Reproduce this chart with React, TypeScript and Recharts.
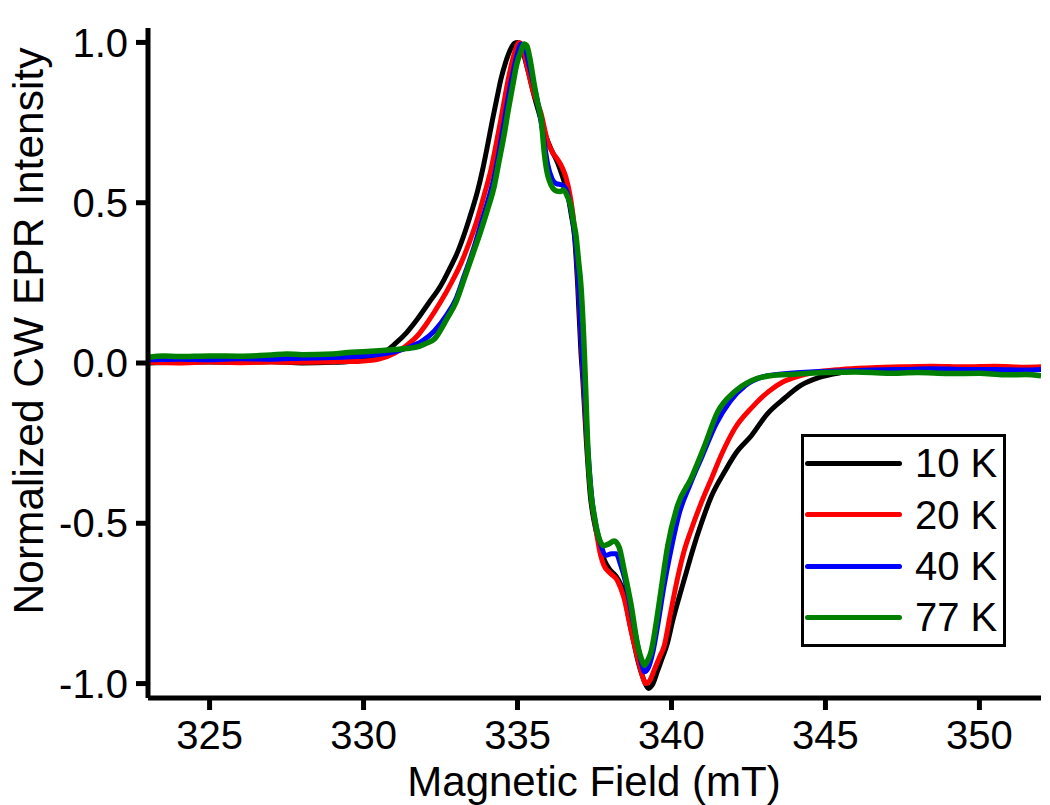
import React from 'react';
import { LineChart, Line, XAxis, YAxis, Legend, Label } from 'recharts';

// ---- Data ----
const fieldK10 = [323.0, 324.0, 325.0, 326.0, 327.0, 328.0, 329.0, 329.8, 330.3, 330.7, 331.0, 331.4, 331.75, 332.1, 332.5, 332.8, 333.05, 333.3, 333.5, 333.7, 333.86, 334.05, 334.19, 334.35, 334.46, 334.62, 334.78, 334.9, 335.0, 335.12, 335.33, 335.55, 335.76, 335.95, 336.09, 336.3, 336.45, 336.62, 336.75, 336.85, 336.95, 337.06, 337.12, 337.24, 337.36, 337.5, 337.65, 337.8, 338.0, 338.2, 338.35, 338.47, 338.6, 338.75, 338.9, 339.05, 339.15, 339.25, 339.4, 339.55, 339.7, 339.85, 340.05, 340.25, 340.43, 340.7, 340.97, 341.3, 341.72, 342.1, 342.6, 343.1, 343.67, 344.2, 344.8, 345.5, 346.5, 347.5, 348.5, 349.5, 350.5, 351.5, 352.0];
const intK10 = [0.000, 0.002, 0.003, 0.002, 0.004, 0.000, 0.002, 0.006, 0.018, 0.035, 0.058, 0.095, 0.137, 0.185, 0.24, 0.295, 0.345, 0.41, 0.47, 0.535, 0.60, 0.69, 0.76, 0.835, 0.885, 0.94, 0.98, 0.997, 1.0, 0.985, 0.916, 0.83, 0.76, 0.70, 0.667, 0.625, 0.585, 0.53, 0.46, 0.397, 0.25, 0.033, -0.05, -0.25, -0.41, -0.5, -0.56, -0.61, -0.645, -0.665, -0.69, -0.72, -0.79, -0.86, -0.925, -0.975, -1.0, -1.015, -1.0, -0.96, -0.92, -0.88, -0.8, -0.73, -0.67, -0.58, -0.50, -0.415, -0.34, -0.28, -0.226, -0.16, -0.11, -0.07, -0.045, -0.03, -0.02, -0.018, -0.015, -0.018, -0.015, -0.02, -0.018];

const fieldK20 = [323.0, 324.0, 325.0, 326.0, 327.0, 328.0, 329.0, 329.8, 330.5, 331.0, 331.4, 331.75, 332.1, 332.5, 332.85, 333.16, 333.45, 333.7, 333.92, 334.13, 334.3, 334.46, 334.6, 334.72, 334.88, 335.05, 335.15, 335.3, 335.5, 335.76, 335.98, 336.15, 336.3, 336.45, 336.57, 336.73, 336.85, 336.97, 337.08, 337.18, 337.28, 337.4, 337.55, 337.7, 337.8, 338.0, 338.25, 338.45, 338.7, 338.9, 339.05, 339.17, 339.3, 339.45, 339.6, 339.77, 339.95, 340.2, 340.4, 340.64, 340.95, 341.3, 341.65, 342.05, 342.6, 343.14, 343.6, 344.0, 344.6, 345.5, 346.5, 347.5, 348.5, 349.5, 350.5, 351.5, 352.0];
const intK20 = [0.002, 0.0, 0.003, 0.001, 0.003, 0.002, 0.004, 0.005, 0.012, 0.03, 0.055, 0.085, 0.13, 0.19, 0.25, 0.31, 0.38, 0.45, 0.525, 0.60, 0.68, 0.76, 0.835, 0.895, 0.96, 1.0, 0.99, 0.93, 0.85, 0.78, 0.69, 0.655, 0.635, 0.61, 0.58, 0.51, 0.42, 0.26, 0.05, -0.12, -0.28, -0.42, -0.52, -0.6, -0.63, -0.655, -0.68, -0.73, -0.84, -0.92, -0.975, -1.0, -0.99, -0.955, -0.92, -0.88, -0.79, -0.67, -0.59, -0.52, -0.44, -0.36, -0.28, -0.205, -0.14, -0.09, -0.06, -0.045, -0.03, -0.02, -0.015, -0.012, -0.01, -0.012, -0.01, -0.013, -0.012];

const fieldK40 = [323.0, 324.0, 325.0, 326.0, 327.0, 328.0, 329.0, 330.0, 330.6, 331.0, 331.5, 331.9, 332.3, 332.7, 333.0, 333.26, 333.55, 333.8, 334.05, 334.24, 334.42, 334.56, 334.7, 334.84, 334.98, 335.12, 335.22, 335.35, 335.5, 335.7, 335.85, 335.98, 336.12, 336.25, 336.45, 336.6, 336.75, 336.88, 336.98, 337.08, 337.18, 337.28, 337.4, 337.55, 337.7, 337.88, 338.05, 338.2, 338.35, 338.5, 338.7, 338.9, 339.05, 339.12, 339.25, 339.4, 339.55, 339.75, 339.99, 340.25, 340.6, 341.0, 341.45, 341.9, 342.4, 342.9, 343.5, 344.5, 345.5, 346.5, 347.5, 348.5, 349.5, 350.5, 351.5, 352.0];
const intK40 = [0.01, 0.012, 0.01, 0.013, 0.012, 0.015, 0.017, 0.022, 0.028, 0.035, 0.05, 0.068, 0.1, 0.15, 0.2, 0.27, 0.35, 0.43, 0.51, 0.58, 0.67, 0.75, 0.83, 0.9, 0.96, 0.995, 0.99, 0.94, 0.88, 0.79, 0.7, 0.62, 0.575, 0.56, 0.555, 0.535, 0.47, 0.38, 0.25, 0.06, -0.1, -0.26, -0.41, -0.51, -0.565, -0.6, -0.595, -0.595, -0.63, -0.68, -0.78, -0.88, -0.945, -0.963, -0.95, -0.9, -0.82, -0.7, -0.58, -0.47, -0.38, -0.29, -0.19, -0.12, -0.07, -0.045, -0.035, -0.028, -0.025, -0.022, -0.02, -0.018, -0.02, -0.02, -0.022, -0.02];

const fieldK77 = [323.0, 323.5, 324.0, 325.0, 326.0, 327.0, 327.5, 328.0, 329.0, 329.5, 330.0, 330.5, 331.0, 331.4, 331.75, 332.0, 332.3, 332.7, 333.0, 333.26, 333.55, 333.8, 334.03, 334.24, 334.4, 334.56, 334.7, 334.84, 334.97, 335.1, 335.22, 335.3, 335.42, 335.55, 335.68, 335.77, 335.87, 335.95, 336.03, 336.15, 336.25, 336.4, 336.5, 336.62, 336.73, 336.82, 336.9, 336.98, 337.06, 337.17, 337.22, 337.28, 337.39, 337.5, 337.6, 337.8, 337.95, 338.14, 338.3, 338.47, 338.69, 338.9, 339.05, 339.12, 339.22, 339.34, 339.56, 339.72, 339.88, 340.2, 340.64, 341.07, 341.5, 342.05, 342.6, 343.2, 344.0, 345.0, 346.0, 347.0, 348.0, 349.0, 350.0, 350.8, 351.5, 352.0];
const intK77 = [0.018, 0.022, 0.02, 0.022, 0.021, 0.025, 0.028, 0.026, 0.028, 0.033, 0.035, 0.038, 0.042, 0.045, 0.05, 0.06, 0.075, 0.137, 0.19, 0.26, 0.34, 0.41, 0.48, 0.55, 0.63, 0.71, 0.79, 0.864, 0.93, 0.97, 0.995, 0.99, 0.94, 0.864, 0.8, 0.76, 0.655, 0.6, 0.57, 0.545, 0.537, 0.535, 0.54, 0.52, 0.49, 0.44, 0.397, 0.32, 0.24, 0.03, -0.1, -0.26, -0.41, -0.48, -0.53, -0.57, -0.565, -0.555, -0.575, -0.65, -0.756, -0.88, -0.93, -0.943, -0.93, -0.9, -0.776, -0.67, -0.57, -0.444, -0.36, -0.26, -0.153, -0.09, -0.055, -0.04, -0.035, -0.03, -0.028, -0.032, -0.03, -0.033, -0.032, -0.037, -0.036, -0.04];

const seriesNames = ['10 K', '20 K', '40 K', '77 K'];
const xTicks = [325, 330, 335, 340, 345, 350];
const yTicks = [-1.0, -0.5, 0.0, 0.5, 1.0];
const xTitle = 'Magnetic Field (mT)';
const yTitle = 'Normalized CW EPR Intensity';

// ---- Presentation ----
const seriesColors = ['#000000', '#ff0000', '#0000ff', '#008000'];
const FONT = 'Arial, "Liberation Sans", sans-serif';

const toPoints = (fields: number[], values: number[]) =>
  fields.map((b, i) => ({ b, v: values[i] }));

const seriesData = [
  toPoints(fieldK10, intK10),
  toPoints(fieldK20, intK20),
  toPoints(fieldK40, intK40),
  toPoints(fieldK77, intK77),
];

const renderLegend = (props: any) => {
  const payload = props.payload || [];
  return (
    <div
      style={{
        width: 205,
        height: 213,
        border: '3px solid #000',
        boxSizing: 'border-box',
        position: 'relative',
        background: '#fff',
        fontFamily: FONT,
      }}
    >
      {payload.map((p: any, i: number) => {
        const c = 29.3 + i * 51.35 - 3;
        return (
          <React.Fragment key={p.value}>
            <div
              style={{
                position: 'absolute',
                left: 1,
                top: c - 2.5,
                width: 97,
                height: 5,
                background: p.color,
                borderRadius: 2.5,
              }}
            />
            <span
              style={{
                position: 'absolute',
                left: 111,
                top: c - 20,
                fontSize: 40,
                lineHeight: '40px',
                color: '#000',
                whiteSpace: 'nowrap',
              }}
            >
              {p.value}
            </span>
          </React.Fragment>
        );
      })}
    </div>
  );
};

export default function App() {
  return (
    <div style={{ position: 'absolute', left: 0, top: 0, width: 1050, height: 805, background: '#fff' }}>
      <LineChart width={1050} height={805} margin={{ top: 28, right: 9, bottom: 0, left: 0 }}>
        <XAxis
          type="number"
          dataKey="b"
          domain={[323, 352]}
          ticks={xTicks}
          allowDataOverflow
          height={107}
          tickSize={12}
          tickMargin={11}
          axisLine={{ stroke: '#000', strokeWidth: 5 }}
          tickLine={{ stroke: '#000', strokeWidth: 5 }}
          tick={{ fill: '#000', fontSize: 40, fontFamily: FONT }}
        >
          <Label
            content={() => (
              <text x={594} y={796} textAnchor="middle" fontSize={42} fontFamily={FONT} fill="#000">
                {xTitle}
              </text>
            )}
          />
        </XAxis>
        <YAxis
          type="number"
          domain={[-1.045, 1.045]}
          ticks={yTicks}
          allowDataOverflow
          width={148}
          tickSize={12}
          tickMargin={8}
          tickFormatter={(v: number) => v.toFixed(1)}
          axisLine={{ stroke: '#000', strokeWidth: 5 }}
          tickLine={{ stroke: '#000', strokeWidth: 5 }}
          tick={{ fill: '#000', fontSize: 40, fontFamily: FONT }}
        >
          <Label
            content={() => (
              <text
                x={43}
                y={331}
                transform="rotate(-90, 43, 331)"
                textAnchor="middle"
                fontSize={42.5}
                fontFamily={FONT}
                fill="#000"
              >
                {yTitle}
              </text>
            )}
          />
        </YAxis>
        {seriesData.map((d, i) => (
          <Line
            key={seriesNames[i]}
            data={d}
            dataKey="v"
            name={seriesNames[i]}
            type="monotone"
            stroke={seriesColors[i]}
            strokeWidth={i === 3 ? 5.5 : 5}
            dot={false}
            activeDot={false}
            isAnimationActive={false}
          />
        ))}
        <Legend
          layout="vertical"
          align="center"
          verticalAlign="middle"
          content={renderLegend}
          wrapperStyle={{ position: 'absolute', left: 801, top: 434, width: 205, height: 213 }}
        />
      </LineChart>
    </div>
  );
}
